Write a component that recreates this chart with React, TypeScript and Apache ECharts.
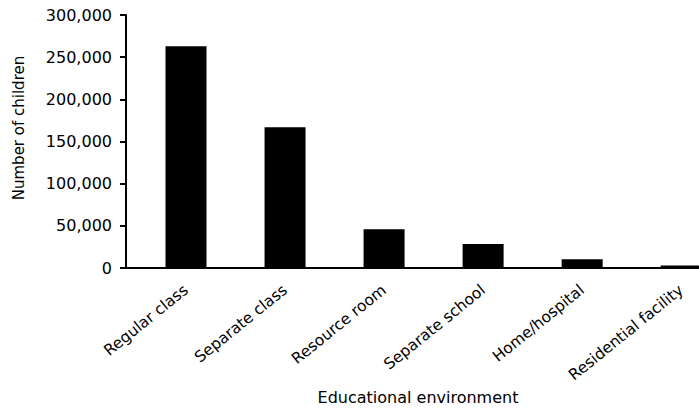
import React, { useEffect, useRef } from "react";
import * as echarts from "echarts";

const categories = [
  "Regular class",
  "Separate class",
  "Resource room",
  "Separate school",
  "Home/hospital",
  "Residential facility",
];
const children = [263000, 167000, 46000, 28500, 10500, 3000];
const yMax = 300000;
const yStep = 50000;
const xTitle = "Educational environment";
const yTitle = "Number of children";

const FONT = "DejaVu Sans, Liberation Sans, Arial, sans-serif";

export default function App() {
  const ref = useRef<HTMLDivElement>(null);
  useEffect(() => {
    if (!ref.current) return;
    const chart = echarts.init(ref.current, undefined, { renderer: "svg" });
    chart.setOption({
      animation: false,
      backgroundColor: "#ffffff",
      grid: {
        left: 126,
        right: 0,
        top: 15,
        bottom: 140,
        containLabel: false,
        outerBoundsMode: "none",
      },
      xAxis: {
        type: "value",
        min: -0.606,
        max: 5.18,
        minInterval: 1,
        maxInterval: 1,
        splitLine: { show: false },
        axisTick: { show: false },
        axisLine: { show: true, lineStyle: { color: "#000", width: 2 } },
        axisLabel: {
          rotate: 39,
          margin: 20,
          fontSize: 15.5,
          color: "#000",
          fontFamily: FONT,
          showMinLabel: false,
          showMaxLabel: false,
          hideOverlap: false,
          formatter: (v: number) =>
            Number.isInteger(v) && categories[v] ? categories[v] : "",
        },
      },
      yAxis: {
        type: "value",
        min: 0,
        max: yMax,
        interval: yStep,
        splitLine: { show: false },
        axisLine: {
          show: true,
          onZero: false,
          lineStyle: { color: "#000", width: 2 },
        },
        axisTick: { show: true, length: 6, lineStyle: { color: "#000", width: 2 } },
        axisLabel: {
          margin: 14,
          fontSize: 16,
          color: "#000",
          fontFamily: FONT,
          formatter: (v: number) => v.toLocaleString("en-US"),
        },
      },
      graphic: [
        {
          type: "text",
          x: 418,
          y: 397,
          style: {
            text: xTitle,
            fontSize: 16,
            fontFamily: FONT,
            fill: "#000",
            textAlign: "center",
            textVerticalAlign: "middle",
          },
        },
        {
          type: "text",
          x: 19,
          y: 128,
          rotation: Math.PI / 2,
          style: {
            text: yTitle,
            fontSize: 15,
            fontFamily: FONT,
            fill: "#000",
            textAlign: "center",
            textVerticalAlign: "middle",
          },
        },
      ],
      series: [
        {
          type: "bar",
          barWidth: 41,
          data: categories.map((_, i) => [i, children[i]]),
          itemStyle: { color: "#000" },
        },
      ],
    });
    return () => chart.dispose();
  }, []);
  return (
    <div
      ref={ref}
      style={{ position: "fixed", left: 0, top: 0, width: 699, height: 408 }}
    />
  );
}
